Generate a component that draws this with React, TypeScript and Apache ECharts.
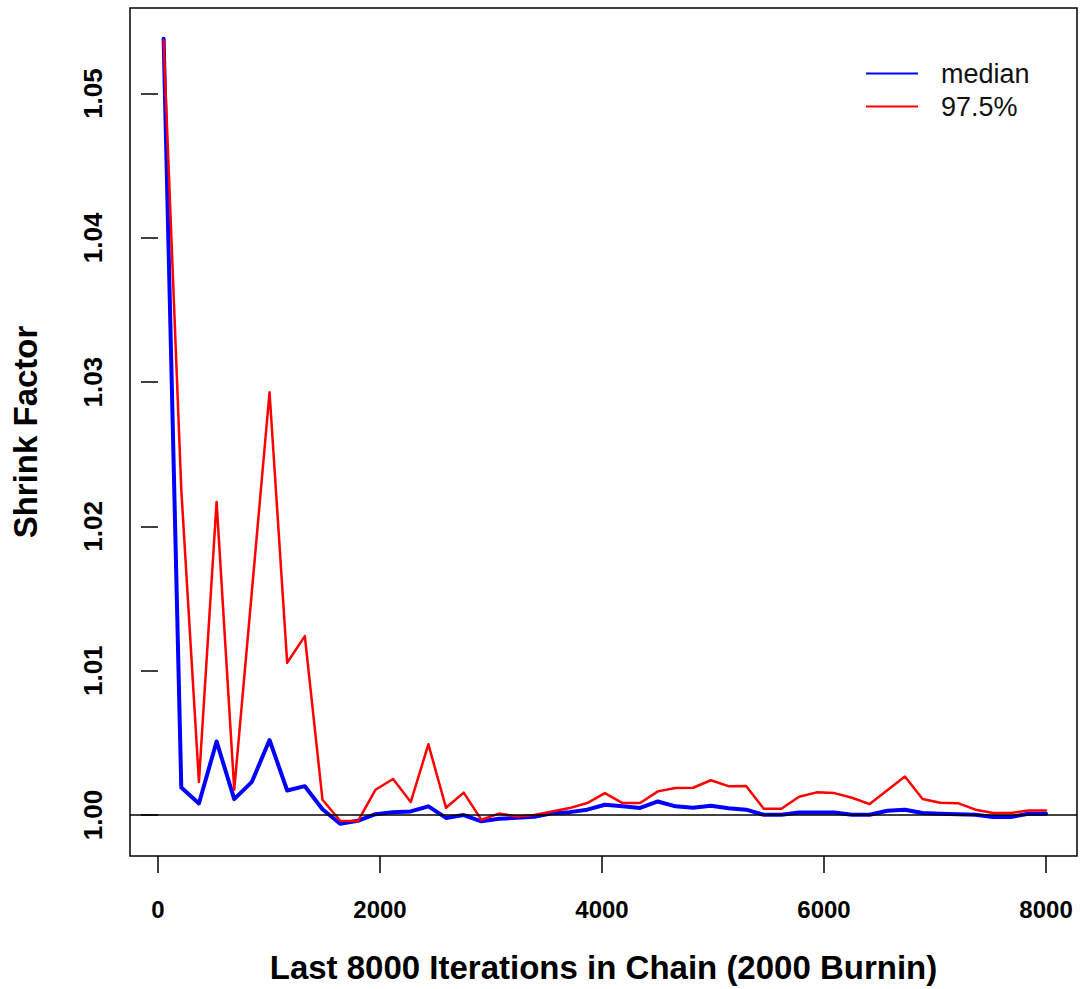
import React, { useEffect, useRef } from "react";
import * as echarts from "echarts";

const iterations = [51, 210, 369, 528, 687, 846, 1005, 1164, 1323, 1482, 1641, 1800, 1959, 2118, 2277, 2436, 2595, 2754, 2913, 3072, 3231, 3390, 3549, 3708, 3867, 4026, 4185, 4344, 4503, 4662, 4821, 4980, 5139, 5298, 5457, 5616, 5775, 5934, 6093, 6252, 6411, 6570, 6729, 6888, 7047, 7206, 7365, 7524, 7683, 7842, 8000];

const medianValues = [1.0538, 1.0019, 1.0008, 1.0051, 1.0011, 1.0023, 1.0052, 1.0017, 1.0020, 1.0004, 0.9994, 0.9996, 1.00006, 1.0002, 1.00025, 1.0006, 0.9998, 1.0000, 0.99956, 0.99974, 0.99981, 0.99988, 1.00012, 1.0002, 1.00037, 1.00071, 1.00061, 1.00049, 1.00094, 1.0006, 1.00051, 1.00064, 1.00047, 1.00037, 1.00002, 1.00002, 1.00018, 1.00018, 1.00018, 1.00002, 1.00002, 1.0003, 1.00037, 1.00014, 1.00009, 1.00006, 1.00002, 0.99986, 0.99986, 1.00009, 1.00009];

const upperValues = [1.0537, 1.02255, 1.0023, 1.0217, 1.00175, 1.0155, 1.0293, 1.01055, 1.0124, 1.00106, 0.9996, 0.99956, 1.00175, 1.0025, 1.0009, 1.0049, 1.0005, 1.00155, 0.99967, 1.0001, 0.9999, 1.0000, 1.00025, 1.00048, 1.00083, 1.00152, 1.00083, 1.00083, 1.00164, 1.00187, 1.00189, 1.00241, 1.0020, 1.00201, 1.00044, 1.00044, 1.00127, 1.00157, 1.00152, 1.0012, 1.00076, 1.00172, 1.00267, 1.00111, 1.00085, 1.00082, 1.00037, 1.00014, 1.00014, 1.00032, 1.00032];

const xTicks = [0, 2000, 4000, 6000, 8000];
const yTicks = [1.0, 1.01, 1.02, 1.03, 1.04, 1.05];

const seriesNames = ["median", "97.5%"];

const FONT = "'Liberation Sans', Arial, sans-serif";

export default function App() {
  const ref = useRef<HTMLDivElement>(null);
  useEffect(() => {
    if (!ref.current) return;
    const chart = echarts.init(ref.current, null, { renderer: "svg" });
    const medianData = iterations.map((x, i) => [x, medianValues[i]]);
    const upperData = iterations.map((x, i) => [x, upperValues[i]]);
    chart.setOption({
      animation: false,
      backgroundColor: "#ffffff",
      grid: {
        left: 130,
        top: 8,
        right: 4,
        bottom: 133,
        show: true,
        borderColor: "#000",
        borderWidth: 1.5,
        backgroundColor: "transparent",
        outerBoundsMode: "none",
        containLabel: false,
      },
      legend: {
        orient: "vertical",
        left: 866,
        top: 57,
        padding: 0,
        data: seriesNames,
        icon: "rect",
        itemWidth: 52,
        itemHeight: 2,
        itemGap: 0,
        textStyle: {
          fontFamily: FONT,
          fontSize: 27,
          color: "#111",
          lineHeight: 33,
          padding: [0, 0, 0, 18],
        },
      },
      xAxis: {
        type: "value",
        min: -252,
        max: 8279,
        name: "Last 8000 Iterations in Chain (2000 Burnin)",
        nameLocation: "middle",
        nameGap: 95,
        nameTextStyle: {
          fontFamily: FONT,
          fontWeight: "bold",
          fontSize: 33,
          color: "#000",
        },
        axisLine: { show: false },
        splitLine: { show: false },
        axisTick: {
          show: true,
          length: 17,
          customValues: xTicks,
          lineStyle: { color: "#000", width: 1.5 },
        },
        axisLabel: {
          customValues: xTicks,
          margin: 41,
          fontFamily: FONT,
          fontWeight: "bold",
          fontSize: 24,
          color: "#000",
          formatter: (v: number) => String(v),
        },
      },
      yAxis: {
        type: "value",
        min: 0.99716,
        max: 1.05593,
        name: "Shrink Factor",
        nameLocation: "middle",
        nameGap: 88,
        nameTextStyle: {
          fontFamily: FONT,
          fontWeight: "bold",
          fontSize: 33,
          color: "#000",
        },
        axisLine: { show: false },
        splitLine: { show: false },
        axisTick: {
          show: true,
          length: 17,
          customValues: yTicks,
          lineStyle: { color: "#000", width: 1.5 },
        },
        axisLabel: {
          customValues: yTicks,
          rotate: 90,
          margin: 24,
          fontFamily: FONT,
          fontWeight: "bold",
          fontSize: 26,
          color: "#000",
          formatter: (v: number) => v.toFixed(2),
        },
      },
      series: [
        {
          name: "median",
          type: "line",
          data: medianData,
          symbol: "none",
          smooth: false,
          lineStyle: { color: "#0000ff", width: 4, cap: "round", join: "round" },
          itemStyle: { color: "#0000ff" },
          z: 2,
          markLine: {
            silent: true,
            symbol: ["none", "none"],
            label: { show: false },
            lineStyle: { color: "#000", width: 1.5, type: "solid" },
            data: [{ yAxis: 1 }],
          },
        },
        {
          name: "97.5%",
          type: "line",
          data: upperData,
          symbol: "none",
          smooth: false,
          lineStyle: { color: "#ff0000", width: 2.5, cap: "round", join: "round" },
          itemStyle: { color: "#ff0000" },
          z: 3,
        },
      ],
    });
    return () => chart.dispose();
  }, []);
  return (
    <div
      ref={ref}
      style={{ position: "fixed", left: 0, top: 0, width: 1081, height: 989, background: "#fff" }}
    />
  );
}
